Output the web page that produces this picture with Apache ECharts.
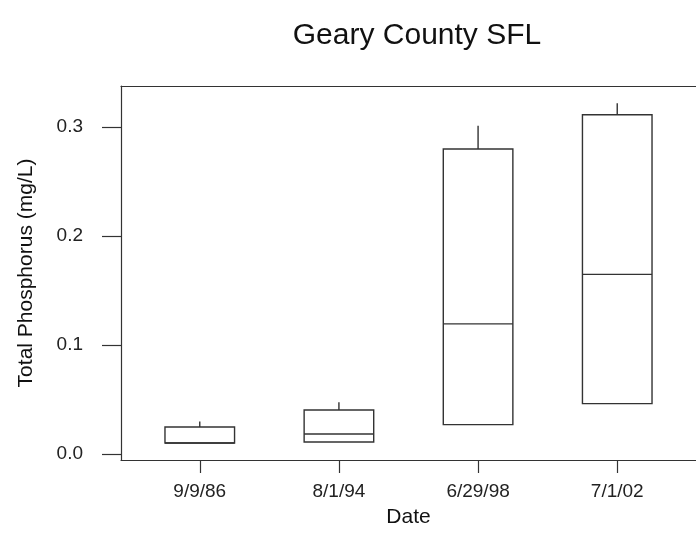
<!DOCTYPE html>
<html>
<head>
<meta charset="utf-8">
<script src="https://cdn.jsdelivr.net/npm/echarts@6/dist/echarts.min.js"></script>
<style>html,body{margin:0;padding:0;background:#fff;}#c{width:696px;height:539px;}</style>
</head>
<body>
<div id="c"></div>
<script>
var categories = ['9/9/86', '8/1/94', '6/29/98', '7/1/02'];
var lowerWhisker = [0.0099, 0.0108, 0.0268, 0.0461];
var q1 = [0.0099, 0.0108, 0.0268, 0.0461];
var median = [0.0099, 0.0182, 0.1193, 0.1647];
var q3 = [0.0246, 0.0402, 0.2798, 0.3113];
var upperWhisker = [0.0296, 0.0473, 0.3012, 0.3218];
var yTicks = [0, 0.1, 0.2, 0.3];
var xTicks = [1, 2, 3, 4];

var font = 'Liberation Sans, Arial, sans-serif';
var lineColor = '#333';
var boxHalf = 0.25;

var data = categories.map(function (c, i) {
  return [i + 1, lowerWhisker[i], q1[i], median[i], q3[i], upperWhisker[i]];
});

var chart = echarts.init(document.getElementById('c'));
chart.setOption({
  animation: false,
  backgroundColor: '#fff',
  title: {
    text: 'Geary County SFL',
    left: 412, top: 16, textAlign: 'center',
    textStyle: { fontFamily: font, fontSize: 30, fontWeight: 'normal', color: '#111' }
  },
  grid: { left: 121, top: 86, width: 582, bottom: 79, show: false },
  xAxis: [{
    type: 'value', min: 0.434, max: 4.566,
    name: 'Date', nameLocation: 'middle', nameGap: 47,
    nameTextStyle: { fontFamily: font, fontSize: 21, color: '#111' },
    axisLine: { show: true, onZero: false, lineStyle: { color: lineColor, width: 1.2 } },
    axisTick: { show: true, length: 13, customValues: xTicks, lineStyle: { color: lineColor, width: 1.2 } },
    axisLabel: { customValues: xTicks, margin: 22, fontFamily: font, fontSize: 19, color: '#222',
      formatter: function (v) { return categories[Math.round(v) - 1] || ''; } },
    splitLine: { show: false }
  }, {
    type: 'value', position: 'top', min: 0.434, max: 4.566,
    axisLine: { show: true, onZero: false, lineStyle: { color: lineColor, width: 1.2 } },
    axisTick: { show: false }, axisLabel: { show: false }, splitLine: { show: false }
  }],
  yAxis: {
    type: 'value', min: -0.0057, max: 0.3377,
    name: 'Total Phosphorus (mg/L)', nameLocation: 'middle', nameGap: 84,
    nameTextStyle: { fontFamily: font, fontSize: 21, color: '#111' },
    axisLine: { show: true, onZero: false, lineStyle: { color: lineColor, width: 1.2 } },
    axisTick: { show: true, length: 19, customValues: yTicks, lineStyle: { color: lineColor, width: 1.2 } },
    axisLabel: { customValues: yTicks, margin: 38, fontFamily: font, fontSize: 19, color: '#222',
      formatter: function (v) { return v.toFixed(1); } },
    splitLine: { show: false }
  },
  series: [{
    type: 'custom',
    data: data,
    encode: { x: 0, y: [1, 2, 3, 4, 5] },
    renderItem: function (params, api) {
      var x = api.value(0);
      var lo = api.value(1), a = api.value(2), m = api.value(3), b = api.value(4), hi = api.value(5);
      var pA = api.coord([x - boxHalf, b]);
      var pB = api.coord([x + boxHalf, a]);
      var mL = api.coord([x - boxHalf, m]);
      var mR = api.coord([x + boxHalf, m]);
      var c = api.coord([x, 0]);
      var wTop = api.coord([x, hi]);
      var wBot = api.coord([x, lo]);
      var style = { stroke: lineColor, lineWidth: 1.4, fill: null };
      var children = [
        { type: 'rect', shape: { x: pA[0], y: pA[1], width: pB[0] - pA[0], height: pB[1] - pA[1] }, style: { stroke: lineColor, lineWidth: 1.4, fill: 'none' } },
        { type: 'line', shape: { x1: mL[0], y1: mL[1], x2: mR[0], y2: mR[1] }, style: style }
      ];
      if (hi > b) children.push({ type: 'line', shape: { x1: c[0], y1: pA[1], x2: c[0], y2: wTop[1] }, style: style });
      if (lo < a) children.push({ type: 'line', shape: { x1: c[0], y1: pB[1], x2: c[0], y2: wBot[1] }, style: style });
      return { type: 'group', children: children };
    }
  }]
});
</script>
</body>
</html>
